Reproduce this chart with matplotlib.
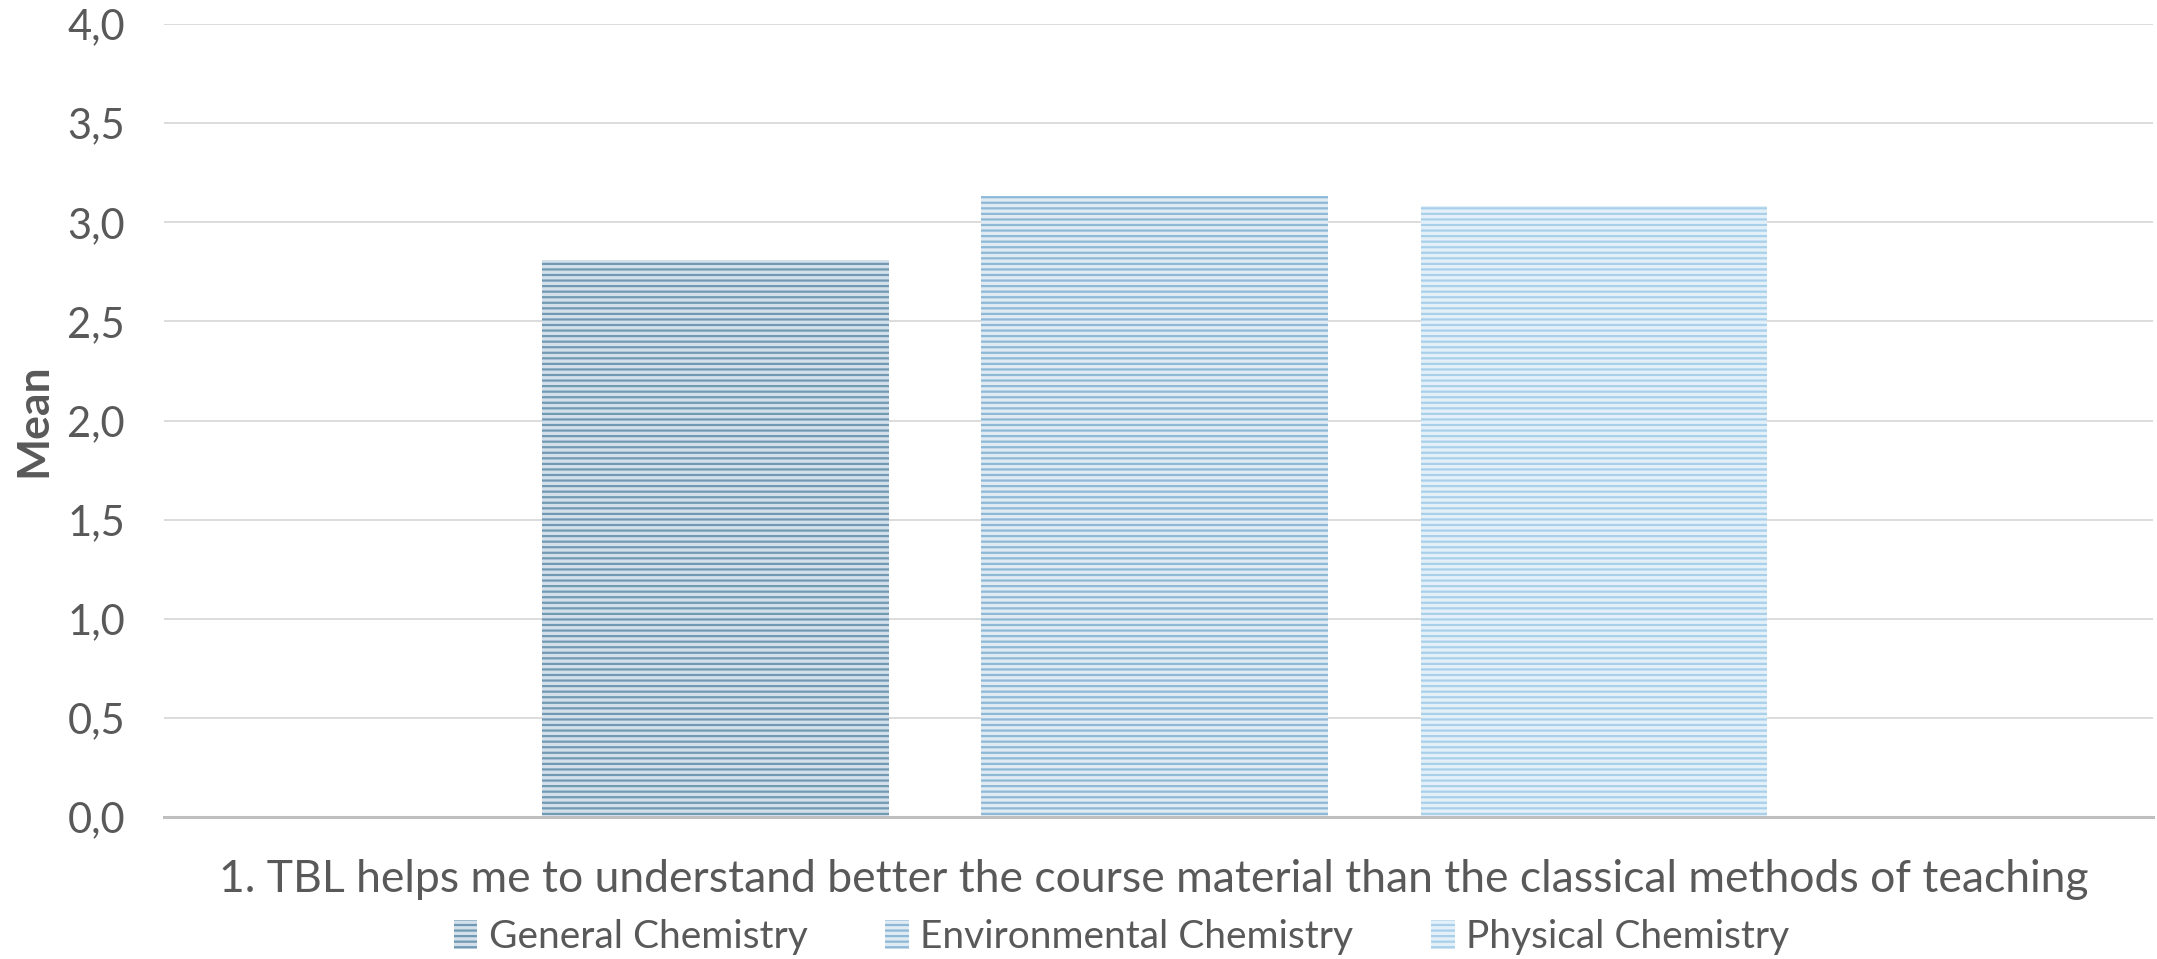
import matplotlib
matplotlib.use("Agg")
import matplotlib.pyplot as plt
import numpy as np

categories = ["1. TBL helps me to understand better the course material than the classical methods of teaching"]
series = ["General Chemistry", "Environmental Chemistry", "Physical Chemistry"]
values = [2.81, 3.13, 3.08]
yticks = [0.0, 0.5, 1.0, 1.5, 2.0, 2.5, 3.0, 3.5, 4.0]
ytick_labels = ["0,0", "0,5", "1,0", "1,5", "2,0", "2,5", "3,0", "3,5", "4,0"]

face_colors = ["#d3e0ea", "#dfeaf3", "#e4f0f8"]
stripe_colors = ["#7199b4", "#8db9d7", "#a8d0ea"]

plt.rcParams['font.family'] = ['Lato', 'DejaVu Sans']
plt.rcParams['hatch.linewidth'] = 1.6

fig = plt.figure(figsize=(21.57, 9.59), dpi=100)
ax = fig.add_axes([0.076, 0.148, 0.922, 0.827])

x = np.arange(len(series)) - 1
for i, (s, v) in enumerate(zip(series, values)):
    ax.bar(x[i], v, width=0.79, color=face_colors[i], edgecolor=stripe_colors[i],
           linewidth=0, hatch='---', label=s, zorder=3)

ax.set_xlim(-2.256, 2.272)
ax.set_ylim(0, 4.0)
ax.set_yticks(yticks)
ax.set_yticklabels(ytick_labels)
ax.tick_params(axis='y', length=0, pad=28, labelsize=30, labelcolor='#595959')
ax.set_xticks([])
ax.grid(axis='y', color='#d9d9d9', linewidth=1.3, zorder=0)
for sp in ['top', 'right', 'left']:
    ax.spines[sp].set_visible(False)
ax.spines['bottom'].set_color('#bfbfbf')
ax.spines['bottom'].set_linewidth(2.2)
ax.spines['bottom'].set_zorder(4)

ax.set_ylabel("Mean", fontsize=32, fontweight='bold', color='#595959', labelpad=10)
fig.text(0.535, 0.083, categories[0], ha='center', va='center', fontsize=32, color='#595959')

leg = fig.legend(loc='center', bbox_to_anchor=(0.52, 0.023), ncol=3, frameon=False,
                 fontsize=28, labelcolor='#595959', handlelength=0.6, handleheight=0.8,
                 handletextpad=0.3, columnspacing=2.0)

fig.savefig("out.png", dpi=100)
